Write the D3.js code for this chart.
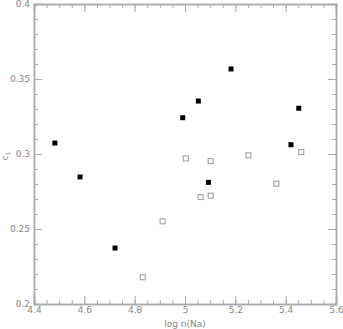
<!DOCTYPE html>
<html><head><meta charset="utf-8">
<script src="https://cdn.jsdelivr.net/npm/d3@7"></script>
<style>body{margin:0;background:#fff}svg{display:block}text{font-family:"DejaVu Sans",sans-serif;fill:#888}</style>
</head><body><svg id="c" width="343" height="329"></svg>
<script>
const filledX = [4.483, 4.583, 4.722, 4.991, 5.053, 5.183, 5.093, 5.452, 5.421];
const filledY = [0.3073, 0.2847, 0.2373, 0.3242, 0.3353, 0.3567, 0.2811, 0.3305, 0.3062];
const openX = [4.832, 4.911, 5.003, 5.102, 5.062, 5.102, 5.252, 5.363, 5.462];
const openY = [0.2178, 0.2551, 0.2971, 0.2953, 0.2713, 0.2722, 0.2991, 0.2802, 0.3013];
const xTicks = [4.4, 4.6, 4.8, 5, 5.2, 5.4, 5.6];
const yTicks = [0.2, 0.25, 0.3, 0.35, 0.4];

const svg = d3.select("#c");
const L = 34, R = 336, T = 4, B = 304;
const x = d3.scaleLinear().domain([4.4, 5.6]).range([L, R]);
const y = d3.scaleLinear().domain([0.2, 0.4]).range([B, T]);
const col = "#aaa";

const xMinor = d3.range(4.4, 5.6001, 0.05);
const yMinor = d3.range(0.2, 0.4001, 0.01);

// bottom axis
svg.append("g").attr("transform", `translate(0,${B})`)
  .call(d3.axisBottom(x).tickValues(xTicks).tickFormat(d3.format("")).tickSize(-8).tickPadding(3));
svg.append("g").attr("transform", `translate(0,${B})`).call(d3.axisBottom(x).tickValues(xMinor).tickSize(-4).tickFormat(""));
// top axis
svg.append("g").attr("transform", `translate(0,${T})`).call(d3.axisTop(x).tickValues(xTicks).tickSize(-8).tickFormat(""));
svg.append("g").attr("transform", `translate(0,${T})`).call(d3.axisTop(x).tickValues(xMinor).tickSize(-4).tickFormat(""));
// left axis
svg.append("g").attr("transform", `translate(${L},0)`)
  .call(d3.axisLeft(y).tickValues(yTicks).tickFormat(d3.format("")).tickSize(-8).tickPadding(4));
svg.append("g").attr("transform", `translate(${L},0)`).call(d3.axisLeft(y).tickValues(yMinor).tickSize(-4).tickFormat(""));
// right axis
svg.append("g").attr("transform", `translate(${R},0)`).call(d3.axisRight(y).tickValues(yTicks).tickSize(-8).tickFormat(""));
svg.append("g").attr("transform", `translate(${R},0)`).call(d3.axisRight(y).tickValues(yMinor).tickSize(-4).tickFormat(""));

svg.selectAll(".domain").attr("stroke", col).attr("stroke-width", 1.5);
svg.selectAll(".tick line").attr("stroke", col);
svg.selectAll(".tick text").attr("fill", "#888").style("font-size", "9px").style("font-family", "DejaVu Sans, sans-serif");

// labels
svg.append("text").attr("x", (L + R) / 2).attr("y", 327).attr("text-anchor", "middle")
  .style("font-size", "9px").text("log n(Na)");
const yl = svg.append("text").attr("transform", "translate(8,156) rotate(-90)").attr("text-anchor", "middle")
  .style("font-size", "9px");
yl.append("tspan").text("c");
yl.append("tspan").attr("dy", 2).style("font-size", "6px").text("1");

// points
const s = 5;
svg.append("g").selectAll("rect").data(filledX.map((v, i) => [v, filledY[i]])).join("rect")
  .attr("x", d => x(d[0]) - s / 2).attr("y", d => y(d[1]) - s / 2)
  .attr("width", s).attr("height", s).attr("fill", "#000");
svg.append("g").selectAll("rect").data(openX.map((v, i) => [v, openY[i]])).join("rect")
  .attr("x", d => x(d[0]) - s / 2).attr("y", d => y(d[1]) - s / 2)
  .attr("width", s).attr("height", s).attr("fill", "none").attr("stroke", "#999").attr("stroke-width", 1);
</script></body></html>
